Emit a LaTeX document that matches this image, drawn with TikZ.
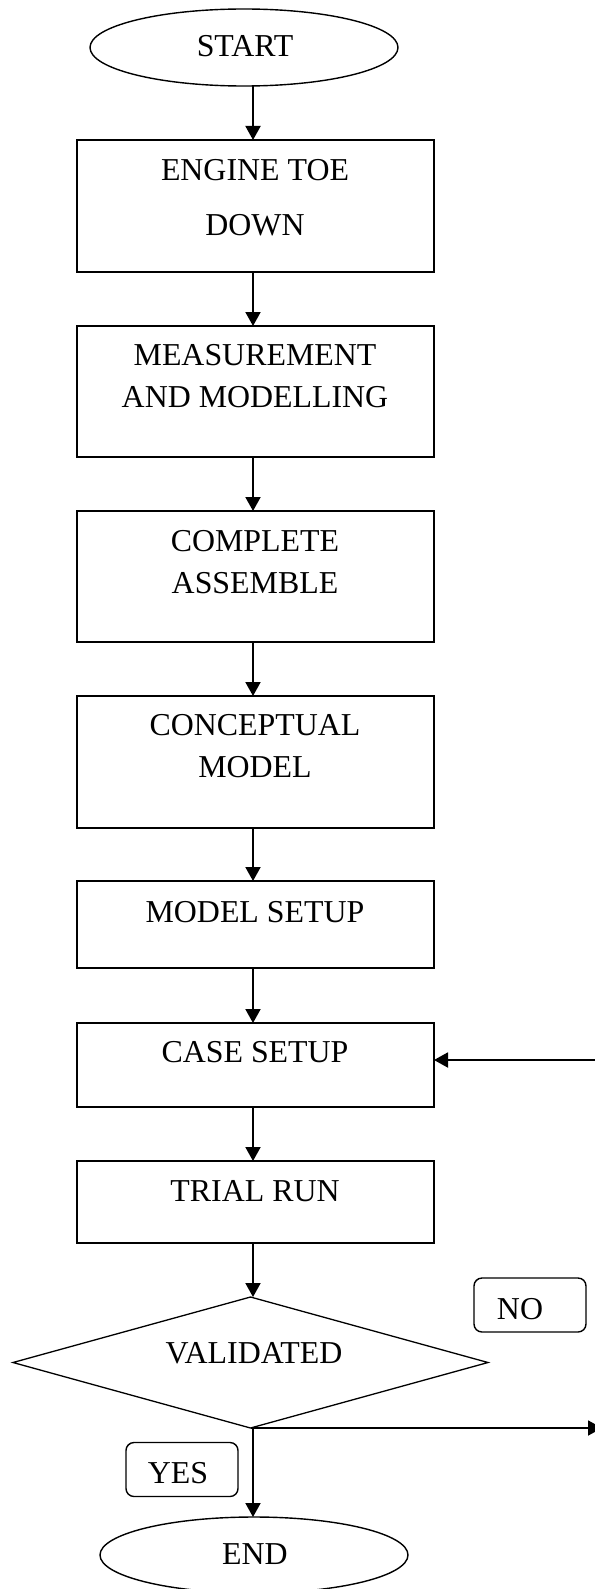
\documentclass[tikz,border=0pt]{standalone}
\usepackage{fontspec}
\setmainfont{Liberation Serif}
\usetikzlibrary{shapes.geometric,arrows.meta,calc}
\begin{document}
\begin{tikzpicture}[x=1bp,y=-1bp,
  stepbox/.style={draw,line width=1.5bp,minimum width=357bp,inner sep=0pt,outer sep=0pt},
  oval/.style={draw,ellipse,line width=1.4bp,minimum width=308bp,minimum height=77bp,inner sep=0pt,outer sep=0pt},
  decision/.style={draw,diamond,line width=1.3bp,minimum width=475bp,minimum height=131bp,inner sep=0pt,outer sep=0pt},
  tag/.style={draw,rounded corners=8bp,line width=1.4bp,minimum width=112bp,minimum height=54bp,inner sep=0pt,outer sep=0pt},
  txt/.style={anchor=base,inner sep=0pt,font=\fontsize{32}{38}\selectfont},
  flow/.style={line width=1.9bp,-{Triangle[length=14bp,width=15bp]}}]

\useasboundingbox (0,0) rectangle (595,1589);

% main axis of the flow
\coordinate (axis) at (253,0);

% terminals
\node[oval] (start) at (244,47.5) {};
\node[txt] (startt) at (245,57) {START};

% process steps
\node[stepbox,minimum height=132bp] (b1) at (255.5,206) {};
\node[txt] (b1a) at (255,180) {ENGINE TOE};
\node[txt] (b1b) at (255,235) {DOWN};

\node[stepbox,minimum height=131bp] (b2) at (255.5,391.5) {};
\node[txt] (b2a) at (255,365) {MEASUREMENT};
\node[txt] (b2b) at (255,407) {AND MODELLING};

\node[stepbox,minimum height=131bp] (b3) at (255.5,576.5) {};
\node[txt] (b3a) at (255,551) {COMPLETE};
\node[txt] (b3b) at (255,593) {ASSEMBLE};

\node[stepbox,minimum height=132bp] (b4) at (255.5,762) {};
\node[txt] (b4a) at (255,735) {CONCEPTUAL};
\node[txt] (b4b) at (255,777) {MODEL};

\node[stepbox,minimum height=87bp] (b5) at (255.5,924.5) {};
\node[txt] (b5a) at (255,922) {MODEL SETUP};

\node[stepbox,minimum height=84bp] (b6) at (255.5,1065) {};
\node[txt] (b6a) at (255,1062) {CASE SETUP};

\node[stepbox,minimum height=82bp] (b7) at (255.5,1202) {};
\node[txt] (b7a) at (255,1201) {TRIAL RUN};

% decision
\node[decision] (d) at (250.5,1362.5) {};
\node[txt] (dt) at (254,1363) {VALIDATED};

\node[tag] (no) at (530,1305) {};
\node[txt] (not) at (520,1319) {NO};

\node[tag] (yes) at (182,1469.5) {};
\node[txt] (yest) at (178,1483) {YES};

\node[oval,minimum height=76bp] (end) at (254,1555) {};
\node[txt] (endt) at (255,1564) {END};

% connectors
\draw[flow] (start.south -| axis) -- (b1.north -| axis);
\draw[flow] (b1.south -| axis) -- (b2.north -| axis);
\draw[flow] (b2.south -| axis) -- (b3.north -| axis);
\draw[flow] (b3.south -| axis) -- (b4.north -| axis);
\draw[flow] (b4.south -| axis) -- (b5.north -| axis);
\draw[flow] (b5.south -| axis) -- (b6.north -| axis);
\draw[flow] (b6.south -| axis) -- (b7.north -| axis);
\draw[flow] (b7.south -| axis) -- (d.north -| axis);
\draw[flow] (d.south -| axis) -- (end.north -| axis);

% loop back on the NO branch
\coordinate (loopin) at (596,1060);
\coordinate (loopout) at (602,1428);
\draw[flow] (loopin) -- (loopin -| b6.east);
\draw[flow] (d.south) -- (d.south -| loopout);
\end{tikzpicture}
\end{document}
